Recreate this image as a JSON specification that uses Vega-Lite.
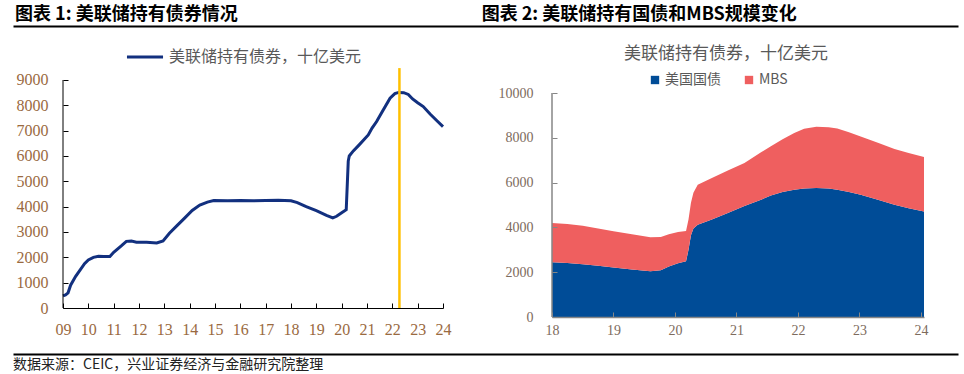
{
  "$schema": "https://vega.github.io/schema/vega-lite/v6.json",
  "background": "white",
  "padding": {"left": 13, "top": 4, "right": 5, "bottom": 0},
  "config": {
    "view": {"stroke": null},
    "font": "Noto Sans CJK SC",
    "axis": {"grid": false, "title": null, "labelOverlap": false}
  },
  "spacing": 7,
  "resolve": {"scale": {"x": "independent", "y": "independent", "color": "independent"}, "axis": {"x": "independent", "y": "independent"}, "legend": {"color": "independent"}},
  "vconcat": [
    {
      "width": 895,
      "height": 26,
      "data": {"values": [
        {"k": "a", "label": "图表 1:  美联储持有债券情况"},
        {"k": "b", "label": "图表 2:  美联储持有国债和MBS规模变化"}
      ]},
      "mark": {"type": "text", "align": "left", "baseline": "middle", "fontSize": 18, "fontWeight": "bold", "font": "Noto Sans CJK SC", "dx": 2, "color": "#000000"},
      "encoding": {
        "x": {"field": "k", "type": "nominal", "bandPosition": 0,
          "scale": {"type": "band", "range": [-50, 895], "paddingInner": 0, "paddingOuter": 0.0125, "align": 0},
          "axis": {"orient": "bottom", "offset": -4, "domain": true, "domainColor": "#000000", "domainWidth": 2, "ticks": false, "labels": false, "title": null}},
        "y": {"value": 11},
        "text": {"field": "label"}
      }
    },
    {
      "spacing": 47,
      "resolve": {"scale": {"x": "independent", "y": "independent", "color": "independent"}, "axis": {"x": "independent", "y": "independent"}, "legend": {"color": "independent"}},
      "hconcat": [
        {
          "width": 380,
          "height": 241,
          "encoding": {
            "x": {"field": "t", "type": "quantitative",
              "scale": {"domain": [2009, 2024], "nice": false, "zero": false},
              "axis": {"values": [2009, 2010, 2011, 2012, 2013, 2014, 2015, 2016, 2017, 2018, 2019, 2020, 2021, 2022, 2023, 2024],
                "labelExpr": "slice(toString(datum.value), 2)", "labelFont": "Liberation Serif", "labelFontSize": 16, "labelOverlap": false, "labelSeparation": -20,
                "labelColor": "#9a6a3f", "domainColor": "#000000", "tickColor": "#000000", "tickSize": -5, "labelPadding": 18, "labelFlush": false}},
            "y": {"field": "v", "type": "quantitative",
              "scale": {"domain": [0, 9513], "nice": false},
              "axis": {"values": [0, 1000, 2000, 3000, 4000, 5000, 6000, 7000, 8000, 9000], "format": "d", "domain": false, "labelOverlap": false, "labelSeparation": -20,
                "labelFont": "Liberation Serif", "labelFontSize": 16, "labelColor": "#9a6a3f",
                "tickColor": "#000000", "tickSize": -5, "labelPadding": 20}}
          },
          "layer": [
            {
              "data": {"values": [
                {"t": 2009.0, "v": 480}, {"t": 2009.1, "v": 520}, {"t": 2009.2, "v": 600}, {"t": 2009.3, "v": 900},
                {"t": 2009.5, "v": 1250}, {"t": 2009.7, "v": 1530}, {"t": 2009.85, "v": 1750}, {"t": 2010.0, "v": 1900},
                {"t": 2010.2, "v": 2000}, {"t": 2010.4, "v": 2040}, {"t": 2010.6, "v": 2030}, {"t": 2010.85, "v": 2030},
                {"t": 2011.0, "v": 2200}, {"t": 2011.3, "v": 2450}, {"t": 2011.5, "v": 2630}, {"t": 2011.7, "v": 2640},
                {"t": 2011.9, "v": 2600}, {"t": 2012.3, "v": 2600}, {"t": 2012.7, "v": 2570}, {"t": 2012.95, "v": 2650},
                {"t": 2013.2, "v": 2950}, {"t": 2013.5, "v": 3250}, {"t": 2013.8, "v": 3550}, {"t": 2014.1, "v": 3850},
                {"t": 2014.4, "v": 4060}, {"t": 2014.7, "v": 4180}, {"t": 2014.95, "v": 4240}, {"t": 2015.5, "v": 4230},
                {"t": 2016.0, "v": 4240}, {"t": 2016.5, "v": 4230}, {"t": 2017.0, "v": 4240}, {"t": 2017.5, "v": 4250},
                {"t": 2018.0, "v": 4230}, {"t": 2018.25, "v": 4160}, {"t": 2018.6, "v": 4000}, {"t": 2019.0, "v": 3840},
                {"t": 2019.4, "v": 3660}, {"t": 2019.65, "v": 3560}, {"t": 2019.8, "v": 3620}, {"t": 2020.0, "v": 3760},
                {"t": 2020.18, "v": 3880}, {"t": 2020.26, "v": 5800}, {"t": 2020.3, "v": 6000}, {"t": 2020.46, "v": 6200},
                {"t": 2020.7, "v": 6450}, {"t": 2021.05, "v": 6830}, {"t": 2021.2, "v": 7100}, {"t": 2021.38, "v": 7360},
                {"t": 2021.6, "v": 7750}, {"t": 2021.91, "v": 8280}, {"t": 2022.1, "v": 8460}, {"t": 2022.25, "v": 8510},
                {"t": 2022.45, "v": 8500}, {"t": 2022.63, "v": 8430}, {"t": 2022.8, "v": 8250}, {"t": 2023.0, "v": 8100},
                {"t": 2023.22, "v": 7950}, {"t": 2023.5, "v": 7650}, {"t": 2023.75, "v": 7400}, {"t": 2024.0, "v": 7160}
              ]},
              "mark": {"type": "line", "strokeWidth": 3},
              "encoding": {
                "color": {"datum": "美联储持有债券，十亿美元", "type": "nominal",
                  "scale": {"range": ["#12307f"]},
                  "legend": {"orient": "none", "legendX": 62, "legendY": -30, "direction": "horizontal", "title": null,
                    "symbolType": "stroke", "symbolStrokeWidth": 3, "symbolSize": 1300, "labelLimit": 400,
                    "labelFontSize": 16, "labelColor": "#595959", "labelFont": "Noto Sans CJK SC"}}
              }
            },
            {
              "data": {"values": [{"t": 2009, "v": 0, "hi": 9000}]},
              "mark": {"type": "rule", "color": "#000000", "strokeWidth": 1},
              "encoding": {
                "y2": {"field": "hi"}
              }
            },
            {
              "data": {"values": [{"t": 2022.28, "v": 0, "hi": 9470}]},
              "mark": {"type": "rule", "color": "#ffc000", "strokeWidth": 2.5},
              "encoding": {
                "y2": {"field": "hi"}
              }
            }
          ]
        },
        {
          "width": 372,
          "height": 250,
          "title": {"text": "美联储持有债券，十亿美元", "fontSize": 17, "fontWeight": "normal", "color": "#595959", "anchor": "middle", "offset": 4, "dx": -12, "font": "Noto Sans CJK SC"},
          "layer": [
            {
              "data": {"values": [
                {"t": 2018.0, "s": "美国国债", "v": 2440}, {"t": 2018.0, "s": "MBS", "v": 1760},
                {"t": 2018.25, "s": "美国国债", "v": 2410}, {"t": 2018.25, "s": "MBS", "v": 1740},
                {"t": 2018.5, "s": "美国国债", "v": 2360}, {"t": 2018.5, "s": "MBS", "v": 1710},
                {"t": 2018.75, "s": "美国国债", "v": 2290}, {"t": 2018.75, "s": "MBS", "v": 1660},
                {"t": 2019.0, "s": "美国国债", "v": 2210}, {"t": 2019.0, "s": "MBS", "v": 1620},
                {"t": 2019.3, "s": "美国国债", "v": 2120}, {"t": 2019.3, "s": "MBS", "v": 1570},
                {"t": 2019.6, "s": "美国国债", "v": 2040}, {"t": 2019.6, "s": "MBS", "v": 1520},
                {"t": 2019.77, "s": "美国国债", "v": 2090}, {"t": 2019.77, "s": "MBS", "v": 1480},
                {"t": 2019.9, "s": "美国国债", "v": 2250}, {"t": 2019.9, "s": "MBS", "v": 1440},
                {"t": 2020.05, "s": "美国国债", "v": 2400}, {"t": 2020.05, "s": "MBS", "v": 1390},
                {"t": 2020.18, "s": "美国国债", "v": 2490}, {"t": 2020.18, "s": "MBS", "v": 1350},
                {"t": 2020.22, "s": "美国国债", "v": 3000}, {"t": 2020.22, "s": "MBS", "v": 1350},
                {"t": 2020.26, "s": "美国国债", "v": 3650}, {"t": 2020.26, "s": "MBS", "v": 1450},
                {"t": 2020.3, "s": "美国国债", "v": 3950}, {"t": 2020.3, "s": "MBS", "v": 1600},
                {"t": 2020.37, "s": "美国国债", "v": 4120}, {"t": 2020.37, "s": "MBS", "v": 1780},
                {"t": 2020.6, "s": "美国国债", "v": 4350}, {"t": 2020.6, "s": "MBS", "v": 1850},
                {"t": 2020.86, "s": "美国国债", "v": 4640}, {"t": 2020.86, "s": "MBS", "v": 1900},
                {"t": 2021.13, "s": "美国国债", "v": 4950}, {"t": 2021.13, "s": "MBS", "v": 1930},
                {"t": 2021.4, "s": "美国国债", "v": 5240}, {"t": 2021.4, "s": "MBS", "v": 2110},
                {"t": 2021.56, "s": "美国国债", "v": 5420}, {"t": 2021.56, "s": "MBS", "v": 2200},
                {"t": 2021.75, "s": "美国国债", "v": 5580}, {"t": 2021.75, "s": "MBS", "v": 2350},
                {"t": 2021.94, "s": "美国国债", "v": 5680}, {"t": 2021.94, "s": "MBS", "v": 2530},
                {"t": 2022.1, "s": "美国国债", "v": 5740}, {"t": 2022.1, "s": "MBS", "v": 2660},
                {"t": 2022.3, "s": "美国国债", "v": 5760}, {"t": 2022.3, "s": "MBS", "v": 2730},
                {"t": 2022.5, "s": "美国国债", "v": 5740}, {"t": 2022.5, "s": "MBS", "v": 2730},
                {"t": 2022.64, "s": "美国国债", "v": 5680}, {"t": 2022.64, "s": "MBS", "v": 2740},
                {"t": 2022.83, "s": "美国国债", "v": 5580}, {"t": 2022.83, "s": "MBS", "v": 2670},
                {"t": 2023.02, "s": "美国国债", "v": 5460}, {"t": 2023.02, "s": "MBS", "v": 2600},
                {"t": 2023.3, "s": "美国国债", "v": 5240}, {"t": 2023.3, "s": "MBS", "v": 2540},
                {"t": 2023.57, "s": "美国国债", "v": 5010}, {"t": 2023.57, "s": "MBS", "v": 2490},
                {"t": 2023.8, "s": "美国国债", "v": 4860}, {"t": 2023.8, "s": "MBS", "v": 2460},
                {"t": 2024.05, "s": "美国国债", "v": 4710}, {"t": 2024.05, "s": "MBS", "v": 2430}
              ]},
              "mark": {"type": "area"},
              "encoding": {
                "x": {"field": "t", "type": "quantitative",
                  "scale": {"domain": [2018, 2024.05], "nice": false, "zero": false},
                  "axis": {"values": [2018, 2019, 2020, 2021, 2022, 2023, 2024], "labelExpr": "slice(toString(datum.value), 2)",
                    "labelFont": "Liberation Serif", "labelFontSize": 14, "labelColor": "#7d6b5d", "labelOverlap": false,
                    "domainColor": "#868686", "domainWidth": 1.5, "tickColor": "#868686", "tickSize": -5, "labelPadding": 11, "zindex": 1, "labelFlush": false}},
                "y": {"field": "v", "type": "quantitative", "stack": "zero",
                  "scale": {"domain": [0, 11161], "nice": false},
                  "axis": {"values": [0, 2000, 4000, 6000, 8000, 10000], "format": "d", "domain": false, "labelOverlap": false,
                    "labelFont": "Liberation Serif", "labelFontSize": 14, "labelColor": "#7d6b5d",
                    "tickColor": "#868686", "tickSize": -5, "labelPadding": 24, "zindex": 1}},
                "color": {"field": "s", "type": "nominal",
                  "scale": {"domain": ["美国国债", "MBS"], "range": ["#004c97", "#ef5f5f"]},
                  "legend": {"orient": "none", "legendX": 96, "legendY": 6, "direction": "horizontal", "title": null,
                    "symbolType": "square", "symbolSize": 70, "symbolStrokeWidth": 0, "columnPadding": 21, "labelOffset": 3,
                    "labelFontSize": 14, "labelColor": "#595959", "labelFont": "Noto Sans CJK SC"}},
                "order": {"field": "s", "sort": "descending"}
              }
            },
            {
              "data": {"values": [{"t": 2018, "lo": 0, "hi": 10000}]},
              "mark": {"type": "rule", "color": "#868686", "strokeWidth": 1.5},
              "encoding": {
                "x": {"field": "t", "type": "quantitative"},
                "y": {"field": "lo", "type": "quantitative"},
                "y2": {"field": "hi"}
              }
            }
          ]
        }
      ]
    },
    {
      "width": 895,
      "height": 24,
      "data": {"values": [{"k": "a", "label": "数据来源：CEIC，兴业证券经济与金融研究院整理"}]},
      "mark": {"type": "text", "align": "left", "baseline": "middle", "fontSize": 14, "font": "Noto Sans CJK SC", "color": "#222222"},
      "encoding": {
        "x": {"field": "k", "type": "nominal", "bandPosition": 0,
          "scale": {"type": "band", "range": [-50, 895], "paddingInner": 0, "paddingOuter": 0},
          "axis": {"orient": "top", "offset": -10, "domain": true, "domainColor": "#000000", "domainWidth": 2, "ticks": false, "labels": false, "title": null}},
        "y": {"value": 21},
        "text": {"field": "label"}
      }
    }
  ]
}
